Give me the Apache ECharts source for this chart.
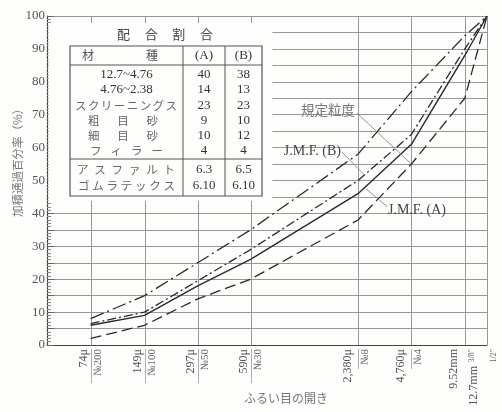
<!DOCTYPE html>
<html>
<head>
<meta charset="utf-8">
<script src="https://cdn.jsdelivr.net/npm/echarts@6/dist/echarts.min.js"></script>
<style>
  html, body { margin: 0; padding: 0; background: #fdfdfc; }
  #chart { width: 502px; height: 412px; }
</style>
</head>
<body>
<div id="chart"></div>
<script>
// Sieve openings (μm) and their tick labels
const sieveSizes = [74, 149, 297, 590, 2380, 4760, 9520, 12700];
const sieveMain = ['74μ', '149μ', '297μ', '590μ', '2,380μ', '4,760μ', '9.52mm', '12.7mm'];
const sieveSub = ['№200', '№100', '№50', '№30', '№8', '№4', '3/8"', '1/2"'];

// Cumulative percent passing
const upperLimit = [8, 15, 25, 35, 58, 77, 94, 100];   // 規定粒度 (upper)
const lowerLimit = [2, 6, 14, 20, 38, 55, 75, 100];    // 規定粒度 (lower)
const jmfA = [6, 9, 18, 26, 46, 61, 88, 100];          // J.M.F.(A)
const jmfB = [6.5, 10, 19.5, 29, 50, 64, 90, 100];     // J.M.F.(B)

// Mix proportion table
const tableTitle = '配合割合';
const tableHead = ['材種', '(A)', '(B)'];
const mixItems = ['12.7~4.76', '4.76~2.38', 'スクリーニングス', '粗目砂', '細目砂', 'フィラー', 'アスファルト', 'ゴムラテックス'];
const mixA = ['40', '14', '23', '9', '10', '4', '6.3', '6.10'];
const mixB = ['38', '13', '23', '10', '12', '4', '6.5', '6.10'];

// Curve annotations: text, anchor [size, %], leader from/to [size, %]
const annText = ['規定粒度', 'J.M.F. (B)', 'J.M.F. (A)'];
const annAnchor = [[2289, 71.4], [1908, 59], [3512, 41]];
const annFrom = [[2348, 70.5], [1930, 58.7], [3480, 42]];
const annTo = [[4760, 55], [2605, 51.5], [2640, 47.5]];

const yAxisTitle = '加積通過百分率（%）';
const xAxisTitle = 'ふるい目の開き';

// ---- layout / style ----
const SERIF = '"Liberation Serif", "DejaVu Serif", serif';
const JP = '"Noto Sans CJK JP", sans-serif';
const INK = '#2a2a2a';
const GRID = '#979797';

const tbl = { left: 70, right: 262, top: 46, headBottom: 65, sep: 159, bottom: 196, col1: 183, col2: 225 };
const rowY = [75, 90, 105.5, 121, 136, 151, 169.5, 186];
const itemSpread = [null, null, [75, 177], [88, 158], [88, 158], [90, 163], [77, 175], [78, 175]];
const annAlign = ['right', 'right', 'left'];

function spreadChars(str, left, right, cy, fs, color) {
  const n = str.length;
  const out = [];
  for (let i = 0; i < n; i++) {
    const cx = n === 1 ? (left + right) / 2 : left + fs / 2 + i * (right - left - fs) / (n - 1);
    out.push({ type: 'text', x: cx, y: cy, z: 10,
      style: { text: str[i], fontFamily: JP, fontSize: fs, fill: color, align: 'center', verticalAlign: 'middle' } });
  }
  return out;
}

function tableElements() {
  const els = [];
  // white panel hiding the grid behind the table
  els.push({ type: 'rect', z: 1, shape: { x: 48.5, y: 23, width: 224, height: 178 }, style: { fill: '#fdfdfc' } });
  els.push(...spreadChars(tableTitle, 117, 213, 34, 13, '#444'));
  const ln = (x1, y1, x2, y2, w) => ({ type: 'line', z: 10, shape: { x1, y1, x2, y2 }, style: { stroke: '#555', lineWidth: w || 1 } });
  els.push({ type: 'rect', z: 10, shape: { x: tbl.left, y: tbl.top, width: tbl.right - tbl.left, height: tbl.bottom - tbl.top },
    style: { fill: 'none', stroke: '#555', lineWidth: 1.2 } });
  els.push(ln(tbl.col1, tbl.top, tbl.col1, tbl.bottom));
  els.push(ln(tbl.col2, tbl.top, tbl.col2, tbl.bottom));
  els.push(ln(tbl.left, tbl.headBottom, tbl.right, tbl.headBottom));
  els.push(ln(tbl.left, tbl.sep, tbl.right, tbl.sep));
  const headY = (tbl.top + tbl.headBottom) / 2;
  els.push(...spreadChars(tableHead[0], 82, 158, headY, 12, '#555'));
  const cA = (tbl.col1 + tbl.col2) / 2, cB = (tbl.col2 + tbl.right) / 2;
  const num = (t, x, y) => ({ type: 'text', x, y, z: 10,
    style: { text: t, fontFamily: SERIF, fontSize: 13, fill: '#333', align: 'center', verticalAlign: 'middle' } });
  els.push(num(tableHead[1], cA, headY));
  els.push(num(tableHead[2], cB, headY));
  mixItems.forEach((item, i) => {
    const y = rowY[i];
    if (itemSpread[i]) {
      els.push(...spreadChars(item, itemSpread[i][0], itemSpread[i][1], y, 11.5, '#666'));
    } else {
      els.push(num(item, (tbl.left + tbl.col1) / 2, y));
    }
    els.push(num(mixA[i], cA, y));
    els.push(num(mixB[i], cB, y));
  });
  // axis titles
  els.push({ type: 'text', x: 18, y: 160, rotation: Math.PI / 2, z: 10,
    style: { text: yAxisTitle, fontFamily: JP, fontSize: 11.5, fill: '#777', align: 'center', verticalAlign: 'middle' } });
  els.push({ type: 'text', x: 286, y: 398, z: 10,
    style: { text: xAxisTitle, fontFamily: JP, fontSize: 12, fill: '#777', align: 'center', verticalAlign: 'middle' } });
  return els;
}

const curve = (name, vals, type, width) => ({
  name, type: 'line', z: 4, symbol: 'none', silent: true,
  data: sieveSizes.map((s, i) => [s, vals[i]]),
  lineStyle: { color: INK, width: width || 1.3, type }
});

const chart = echarts.init(document.getElementById('chart'), null, { renderer: 'canvas' });
chart.setOption({
  animation: false,
  backgroundColor: '#fdfdfc',
  grid: { left: 47, right: 15, top: 16, bottom: 67 },
  xAxis: {
    type: 'log', logBase: 10, min: 42, max: 12700,
    axisLine: { show: true, lineStyle: { color: '#444', width: 1.2 } },
    axisTick: { show: false }, axisLabel: { show: false }, splitLine: { show: false }, minorTick: { show: false }
  },
  yAxis: {
    type: 'value', min: 0, max: 100, interval: 5,
    axisLine: { show: true, lineStyle: { color: '#444', width: 1.2 } },
    axisTick: { show: true, inside: true, length: 7, lineStyle: { color: '#666' } },
    minorTick: { show: true, splitNumber: 5, length: 4, lineStyle: { color: '#888' } },
    axisLabel: { margin: 2, fontFamily: SERIF, fontSize: 13, color: '#555',
      formatter: v => (v % 10 === 0 ? String(v) : '') },
    splitLine: { show: true, lineStyle: { color: GRID, width: 1 } }
  },
  graphic: { elements: tableElements() },
  series: [
    {
      // sieve grid lines and two-line tick labels
      type: 'custom', z: 0, silent: true, clip: false,
      data: sieveSizes.map((s, i) => [s, i]),
      renderItem(params, api) {
        const i = params.dataIndex;
        const b = api.coord([api.value(0), 0]);
        const t = api.coord([api.value(0), 100]);
        const x = Math.round(b[0]) + 0.5, y = b[1] + 4;
        const small = i >= 6;
        const wide = (i === 4 || i === 5);
        const mainShift = i === 6 ? 6 : (i === 7 ? 8 : (wide ? 5 : 2));
        const shiftDown = i === 7 ? 17 : 0;
        return { type: 'group', children: [
          { type: 'line', shape: { x1: x, y1: t[1], x2: x, y2: b[1] }, style: { stroke: GRID, lineWidth: 1 } },
          { type: 'text', x: x - mainShift, y: y + shiftDown, rotation: Math.PI / 2,
            style: { text: sieveMain[i], fontFamily: SERIF, fontSize: 12, fill: '#555', align: 'right', verticalAlign: 'bottom' } },
          { type: 'text', x: x + (small ? 2 : 1), y: y, rotation: Math.PI / 2,
            style: { text: sieveSub[i], fontFamily: SERIF, fontSize: small ? 8 : 11, fill: '#666', align: 'right', verticalAlign: 'top' } },
          small ? { type: 'group' } :
            { type: 'line', shape: { x1: x, y1: y, x2: x, y2: y + (wide ? 20 : 34) }, style: { stroke: '#999', lineWidth: 0.8 } }
        ] };
      }
    },
    curve('規定粒度(上限)', upperLimit, [14, 4, 2, 4]),
    curve('規定粒度(下限)', lowerLimit, [11, 5]),
    curve('J.M.F.(A)', jmfA, 'solid', 1.4),
    curve('J.M.F.(B)', jmfB, [9, 3, 2, 3]),
    {
      // curve labels with leader lines
      type: 'custom', z: 5, silent: true, clip: false,
      data: annText.map((t, i) => [annAnchor[i][0], annAnchor[i][1]]),
      renderItem(params, api) {
        const i = params.dataIndex;
        const p = api.coord(annAnchor[i]);
        const f = api.coord(annFrom[i]);
        const e = api.coord(annTo[i]);
        const isJP = i === 0;
        return { type: 'group', children: [
          { type: 'text', x: p[0], y: p[1],
            style: { text: annText[i], fontFamily: isJP ? JP : SERIF, fontSize: isJP ? 13.5 : 14,
              fill: isJP ? '#777' : '#444', align: annAlign[i], verticalAlign: 'middle' } },
          { type: 'line', shape: { x1: f[0], y1: f[1], x2: e[0], y2: e[1] }, style: { stroke: '#888', lineWidth: 0.9 } }
        ] };
      }
    }
  ]
});
</script>
</body>
</html>
